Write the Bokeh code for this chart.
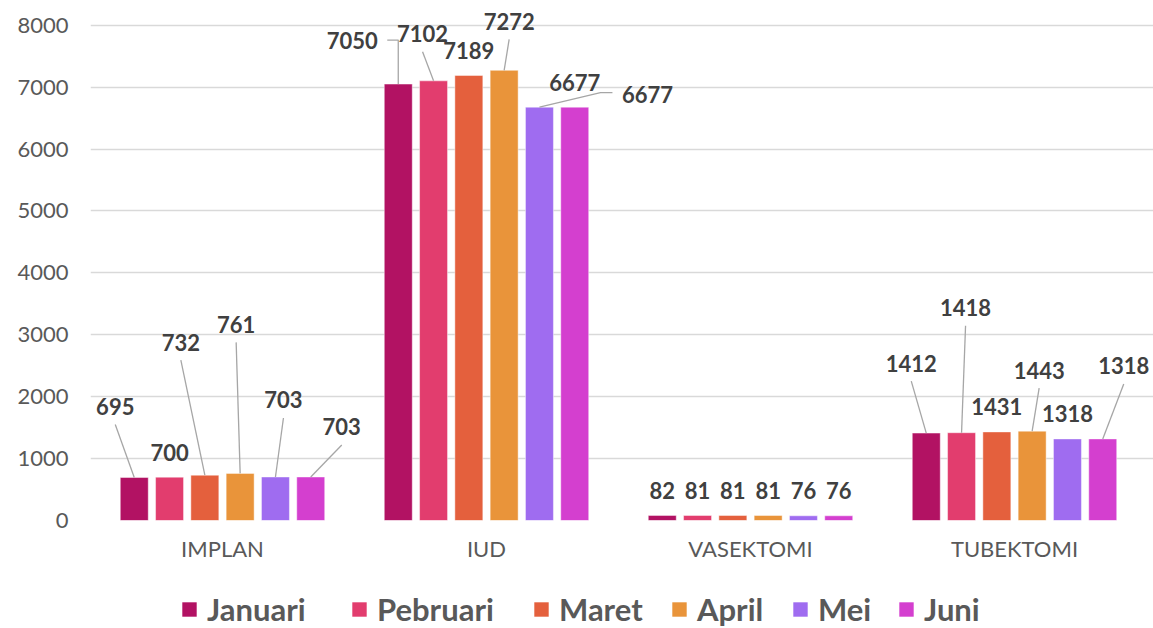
from bokeh.plotting import figure
from bokeh.layouts import column
from bokeh.models import Range1d, FixedTicker, Legend, LegendItem
from bokeh.core.properties import value
from bokeh.embed import file_html
from bokeh.resources import INLINE

# ---------------- data ----------------
categories = ["IMPLAN", "IUD", "VASEKTOMI", "TUBEKTOMI"]
months = ["Januari", "Pebruari", "Maret", "April", "Mei", "Juni"]
januari = [695, 7050, 82, 1412]
pebruari = [700, 7102, 81, 1418]
maret = [732, 7189, 81, 1431]
april = [761, 7272, 81, 1443]
mei = [703, 6677, 76, 1318]
juni = [703, 6677, 76, 1318]
y_ticks = [0, 1000, 2000, 3000, 4000, 5000, 6000, 7000, 8000]

series = [januari, pebruari, maret, april, mei, juni]
colors = ["#B21263", "#E23D6E", "#E4603D", "#E9943A", "#9F6CF0", "#D43FCF"]

# ---------------- label placement (style) ----------------
# (month index, category index) -> (dx px, dy px of label centre from bar top, leader style)
DEFAULT_LABEL = (0, -25, None)
label_layout = {
    (0, 0): (-19, -71, "below"),
    (2, 0): (-24, -133, "below"),
    (3, 0): (-4, -149, "below"),
    (4, 0): (8, -77, "below"),
    (5, 0): (31, -50, "below"),
    (0, 1): (-46, -44, "elbow_left"),
    (1, 1): (-11, -47, "below"),
    (3, 1): (5, -49, "below"),
    (4, 1): (108, -13, "elbow_right"),
    (0, 3): (-15, -70, "below"),
    (1, 3): (4, -125, "below"),
    (3, 3): (7, -61, "below"),
    (5, 3): (21, -73, "below"),
}
# left edge (page px) of each legend entry's colour square
legend_left = [180, 350, 532, 670, 791, 897]

W = 1153
N = len(categories)
PX_X = 264.0                 # pixels per category
LEFT = 90
X_END = (W - LEFT) / PX_X    # a little room on the right for labels
Y_TOP = 8400                 # room above 8000 for the labels
FRAME_H = 520
PX_Y = FRAME_H / Y_TOP
BOTTOM = 70
LEG_H = 38
STEP = 0.1337
BAR_W = 0.106

FONT = value("Lato")

p = figure(
    width=W, height=FRAME_H + BOTTOM,
    x_range=Range1d(0, X_END), y_range=Range1d(0, Y_TOP),
    output_backend="svg", toolbar_location=None,
    min_border_left=LEFT, min_border_right=0, min_border_top=0, min_border_bottom=BOTTOM,
)
p.outline_line_color = None
p.background_fill_color = "white"
p.border_fill_color = "white"

# axes
p.yaxis.ticker = FixedTicker(ticks=y_ticks)
p.yaxis.axis_line_color = None
p.yaxis.major_tick_line_color = None
p.yaxis.minor_tick_line_color = None
p.yaxis.major_tick_out = 0
p.yaxis.minor_tick_out = 0
p.yaxis.major_label_text_font = "Lato"
p.yaxis.major_label_text_font_size = "22px"
p.yaxis.major_label_text_color = "#595959"
p.yaxis.major_label_standoff = 22

cat_centers = [i + 0.5 for i in range(N)]
p.xaxis.ticker = FixedTicker(ticks=cat_centers)
p.xaxis.major_label_overrides = {c: name for c, name in zip(cat_centers, categories)}
p.xaxis.axis_line_color = None
p.xaxis.major_tick_line_color = None
p.xaxis.minor_tick_line_color = None
p.xaxis.major_tick_out = 0
p.xaxis.minor_tick_out = 0
p.xaxis.major_label_text_font = "Lato"
p.xaxis.major_label_text_font_size = "22px"
p.xaxis.major_label_text_color = "#595959"
p.xaxis.major_label_standoff = 14

p.xgrid.grid_line_color = None
p.ygrid.ticker = FixedTicker(ticks=y_ticks)
p.ygrid.grid_line_color = "#D9D9D9"
p.ygrid.grid_line_width = 1.5

# bars
lab_x, lab_y, lab_t = [], [], []
lead_xs, lead_ys = [], []
for j, (name, vals, col) in enumerate(zip(months, series, colors)):
    xs = [c + (j - 2.5) * STEP for c in cat_centers]
    p.vbar(x=xs, top=vals, width=BAR_W, fill_color=col,
           line_color="white", line_alpha=0.45, line_width=1)
    for i, (bx, v) in enumerate(zip(xs, vals)):
        dx, dy, leader = label_layout.get((j, i), DEFAULT_LABEL)
        lx = bx + dx / PX_X
        ly = v - dy / PX_Y
        lab_x.append(lx)
        lab_y.append(ly)
        lab_t.append(str(v))
        if leader == "below":
            lead_xs.append([bx, lx])
            lead_ys.append([v, ly - 18 / PX_Y])
        elif leader == "elbow_left":
            lead_xs.append([bx, bx, lx + 35 / PX_X])
            lead_ys.append([v, ly, ly])
        elif leader == "elbow_right":
            lead_xs.append([bx, lx - 47 / PX_X, lx - 35 / PX_X])
            lead_ys.append([v, ly + 1.5 / PX_Y, ly + 1.5 / PX_Y])

p.multi_line(xs=lead_xs, ys=lead_ys, line_color="#A6A6A6", line_width=1.3)
p.text(x=lab_x, y=lab_y, text=lab_t, text_font=FONT, text_font_size="22px",
       text_font_style="bold", text_color="#404040",
       text_align="center", text_baseline="middle")

# ---------------- legend strip ----------------
# (the column aligns this strip's frame with the chart frame, which starts at LEFT)
leg = figure(
    width=W, height=LEG_H, x_range=Range1d(0, W), y_range=Range1d(0, LEG_H),
    output_backend="svg", toolbar_location=None,
    x_axis_type=None, y_axis_type=None,
    min_border_left=LEFT, min_border_right=0, min_border_top=0, min_border_bottom=0,
)
leg.outline_line_color = None
leg.grid.visible = False
for name, col, x0 in zip(months, colors, legend_left):
    # zero-height proxy bar: only its colour is shown, as the legend swatch
    r = leg.vbar(x=[0], top=[0], bottom=[0], width=0, fill_color=col, line_color=None)
    lg = Legend(items=[LegendItem(label=name, renderers=[r])], location=(x0 - LEFT, 0),
                orientation="horizontal", glyph_width=18, glyph_height=18,
                label_standoff=9, label_height=LEG_H, padding=0, margin=0,
                border_line_color=None, background_fill_alpha=0,
                label_text_font="Lato", label_text_font_style="bold",
                label_text_font_size="31px", label_text_color="#595959")
    leg.add_layout(lg, "center")

open("out.html", "w").write(file_html(column(p, leg, spacing=0), INLINE))
